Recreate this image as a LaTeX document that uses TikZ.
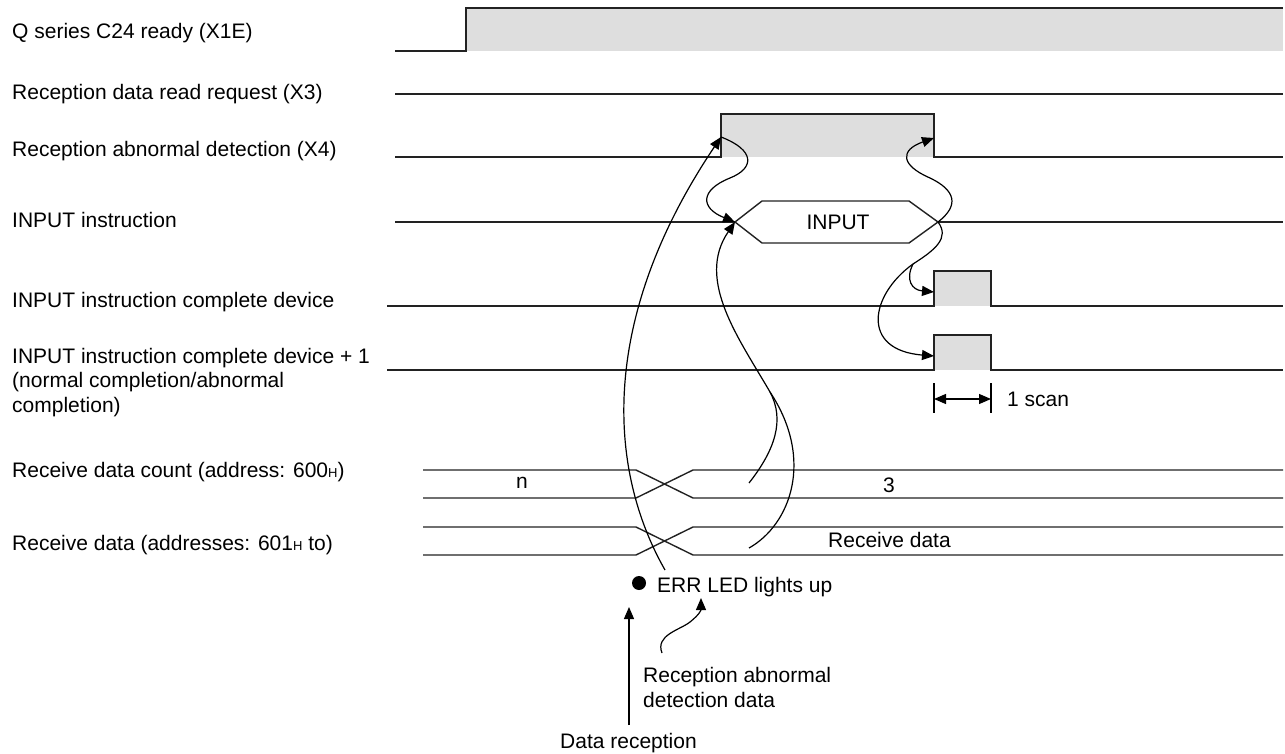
\documentclass[tikz,border=0pt]{standalone}
\usepackage{fontspec}
\setmainfont{Liberation Sans}
\usetikzlibrary{arrows.meta}

\definecolor{busygray}{HTML}{DEDEDE}
\definecolor{wireblack}{HTML}{222222}
\newcommand{\hsub}{{\fontsize{13}{13}\selectfont H}}

\begin{document}
\begin{tikzpicture}[
  x=1pt, y=-1pt,
  font=\fontsize{21}{24.5}\selectfont,
  wave/.style={draw=wireblack, line width=1.4pt},
  busy/.style={fill=busygray},
  siglabel/.style={anchor=base west, inner sep=0pt, align=left},
  note/.style={anchor=base west, inner sep=0pt, align=left},
  wire/.style={line width=1.2pt},
  link/.style={wire, -{Triangle[length=12pt,width=10pt]}},
  scanarrow/.style={wire, {Triangle[length=12pt,width=10pt]}-{Triangle[length=12pt,width=10pt]}}
]
\useasboundingbox (0,0) rectangle (1285,754);

% signal names
\node[siglabel] (rdy)  at (12,39)  {Q series C24 ready (X1E)};
\node[siglabel] (req)  at (12,100) {Reception data read request (X3)};
\node[siglabel] (abd)  at (12,157) {Reception abnormal detection (X4)};
\node[siglabel] (ins)  at (12,228) {INPUT instruction};
\node[siglabel] (cmp)  at (12,307) {INPUT instruction complete device};
\node[siglabel] (cmp1) at (12,412) {INPUT instruction complete device + 1\\(normal completion/abnormal\\completion)};
\node[siglabel] (cnt)  at (12,477) {Receive data count (address: 600\hsub)};
\node[siglabel] (dat)  at (12,550) {Receive data (addresses: 601\hsub{} to)};

% arrow end points on the waves
\coordinate (x4on)   at (721,137);
\coordinate (x4off)  at (934,138);
\coordinate (instart) at (735,222);
\coordinate (inend)  at (938,222);
\coordinate (cmpon)  at (934,292);
\coordinate (cmp1on) at (934,356);
\coordinate (fork)   at (913,264);
\coordinate (join)   at (770,392);

% X1E
\fill[busy] (466,8) rectangle (1283,51);
\draw[wave] (395,51) -- (466,51) -- (466,8) -- (1283,8);
% X3
\draw[wave] (395,94) -- (1283,94);
% X4
\fill[busy] (721,114) rectangle (934,157);
\draw[wave] (395,157) -- (721,157) -- (721,114) -- (934,114) -- (934,157) -- (1283,157);
% INPUT
\draw[wave] (395,222) -- (instart);
\draw[wave] (instart) -- (762,201) -- (909,201) -- (inend) -- (909,243) -- (762,243) -- cycle;
\draw[wave] (inend) -- (1283,222);
\node (inp) at (838,222) {INPUT};
% complete device
\fill[busy] (934,271) rectangle (991,306);
\draw[wave] (387,306) -- (934,306) -- (934,271) -- (991,271) -- (991,306) -- (1283,306);
\fill[busy] (934,335) rectangle (991,370);
\draw[wave] (387,370) -- (934,370) -- (934,335) -- (991,335) -- (991,370) -- (1283,370);
% 1 scan
\draw[wire] (934,383) -- (934,413);
\draw[wire] (991,383) -- (991,413);
\draw[scanarrow] (934,399) -- (991,399);
\node[note] (scan) at (1007,406) {1 scan};

% data buses
\draw[wave] (423,470) -- (636,470) -- (693,498) -- (1283,498);
\draw[wave] (423,498) -- (636,498) -- (693,470) -- (1283,470);
\draw[wave] (423,527) -- (636,527) -- (693,555) -- (1283,555);
\draw[wave] (423,555) -- (636,555) -- (693,527) -- (1283,527);
\node[anchor=base] (cntn) at (522,488) {n};
\node[anchor=base] (cnt3) at (889,492) {3};
\node[note] (rdat) at (828,547) {Receive data};

% ERR LED
\node[circle, fill, minimum size=14pt, inner sep=0pt] (led) at (639,583) {};
\node[note] (err) at (657,592) {ERR LED lights up};
\node[note] (drx) at (560,748) {Data reception};
\node[note] (abn) at (643,707) {Reception abnormal\\detection data};

% cause and effect
\draw[link] (629,725) -- (629,607);
\draw[link] (662,653) .. controls (655,635) and (680,630) .. (690,622) .. controls (700,614) and (701,610) .. (701,598);
\draw[link] (665,570) .. controls (608,470) and (598,320) .. (x4on);
\draw[link] (x4on) .. controls (755,150) and (755,168) .. (730,178) .. controls (700,190) and (700,208) .. (instart);
\draw[link] (749,483) .. controls (775,450) and (785,420) .. (join) .. controls (740,340) and (695,280) .. (instart);
\draw[wire] (749,548) .. controls (790,525) and (815,460) .. (join);
\draw[link] (inend) .. controls (960,205) and (955,190) .. (930,178) .. controls (900,165) and (900,150) .. (x4off);
\draw[link] (inend) .. controls (950,238) and (935,250) .. (fork) .. controls (870,295) and (860,350) .. (cmp1on);
\draw[link] (fork) .. controls (905,280) and (912,290) .. (cmpon);
\end{tikzpicture}
\end{document}
